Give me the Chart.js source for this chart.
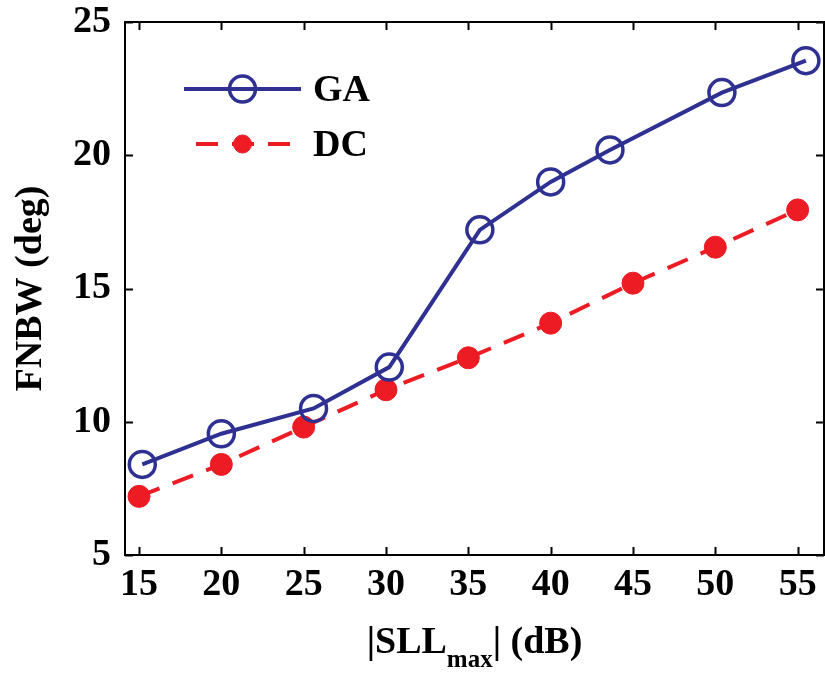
<!DOCTYPE html>
<html>
<head>
<meta charset="utf-8">
<script src="https://cdn.jsdelivr.net/npm/chart.js@4"></script>
<style>
  html, body { margin: 0; padding: 0; background: #ffffff; }
  #wrap { width: 825px; height: 676px; position: relative; }
</style>
</head>
<body>
<div id="wrap"><canvas id="fnbwChart" width="825" height="676"></canvas></div>
<script>
// Werte
const sllGA  = [15.2, 20.0, 25.6, 30.2, 35.7, 40.0, 43.6, 50.4, 55.5];
const fnbwGA = [8.4, 9.55, 10.5, 12.05, 17.2, 19.0, 20.2, 22.35, 23.55];
const sllDC  = [15, 20, 25, 30, 35, 40, 45, 50, 55];
const fnbwDC = [7.2, 8.4, 9.8, 11.2, 12.4, 13.7, 15.2, 16.55, 17.95];
const seriesLabels = ['GA', 'DC'];
const xTicks = [15, 20, 25, 30, 35, 40, 45, 50, 55];
const yTicks = [5, 10, 15, 20, 25];

(function() {
    'use strict';

    const FONT = '"Liberation Serif", "Times New Roman", serif';
    const BLUE = '#2e3192';
    const RED = '#ed1c24';

    function toPoints(xs, ys) {
        return xs.map(function(x, i) { return { x: x, y: ys[i] }; });
    }

    // Rahmen mit nach innen zeigenden Ticks (MATLAB-Stil)
    const framePlugin = {
        id: 'frame',
        beforeDatasetsDraw: function(chart) {
            const ctx = chart.ctx;
            const a = chart.chartArea;
            const xs = chart.scales.x;
            const ys = chart.scales.y;
            const len = 8;
            ctx.save();
            ctx.strokeStyle = '#000';
            ctx.lineWidth = 2;
            ctx.strokeRect(a.left, a.top, a.right - a.left, a.bottom - a.top);
            ctx.beginPath();
            xTicks.forEach(function(v) {
                const px = Math.round(xs.getPixelForValue(v)) + 0.5;
                ctx.moveTo(px, a.bottom); ctx.lineTo(px, a.bottom - len);
                ctx.moveTo(px, a.top); ctx.lineTo(px, a.top + len);
            });
            yTicks.forEach(function(v) {
                const py = Math.round(ys.getPixelForValue(v)) + 0.5;
                ctx.moveTo(a.left, py); ctx.lineTo(a.left + len, py);
                ctx.moveTo(a.right, py); ctx.lineTo(a.right - len, py);
            });
            ctx.stroke();
            ctx.restore();
        }
    };

    // x-Achsentitel mit tiefgestelltem "max"
    const xTitlePlugin = {
        id: 'xTitle',
        afterDraw: function(chart) {
            const ctx = chart.ctx;
            const a = chart.chartArea;
            const parts = [
                { t: '|SLL', size: 38, dy: 0 },
                { t: 'max', size: 25, dy: 14 },
                { t: '| (dB)', size: 38, dy: 0 }
            ];
            ctx.save();
            ctx.fillStyle = '#000';
            ctx.textBaseline = 'alphabetic';
            let total = 0;
            parts.forEach(function(p) {
                ctx.font = 'bold ' + p.size + 'px ' + FONT;
                p.w = ctx.measureText(p.t).width;
                total += p.w;
            });
            let x = (a.left + a.right) / 2 - total / 2;
            const base = 653;
            parts.forEach(function(p) {
                ctx.font = 'bold ' + p.size + 'px ' + FONT;
                ctx.fillText(p.t, x, base + p.dy);
                x += p.w;
            });
            ctx.restore();
        }
    };

    // Legende innerhalb der Achsen
    const legendPlugin = {
        id: 'innerLegend',
        afterDraw: function(chart) {
            const ctx = chart.ctx;
            const a = chart.chartArea;
            const x0 = a.left + 59;
            const x1 = a.left + 176;
            const xm = (x0 + x1) / 2;
            chart.data.datasets.forEach(function(ds, i) {
                const y = a.top + 67 + i * 55;
                ctx.save();
                ctx.strokeStyle = ds.borderColor;
                ctx.lineWidth = ds.borderWidth;
                ctx.setLineDash(ds.borderDash || []);
                ctx.lineDashOffset = -12;
                ctx.beginPath();
                ctx.moveTo(x0, y);
                ctx.lineTo(x1, y);
                ctx.stroke();
                ctx.setLineDash([]);
                ctx.beginPath();
                ctx.arc(xm, y, ds.pointRadius - (i === 1 ? 2 : 0), 0, Math.PI * 2);
                if (ds.pointBackgroundColor && ds.pointBackgroundColor !== 'transparent') {
                    ctx.fillStyle = ds.pointBackgroundColor;
                    ctx.fill();
                }
                ctx.lineWidth = ds.pointBorderWidth;
                ctx.strokeStyle = ds.pointBorderColor;
                ctx.stroke();
                ctx.fillStyle = '#000';
                ctx.font = 'bold 38px ' + FONT;
                ctx.textBaseline = 'middle';
                ctx.fillText(ds.label, x1 + 12, y + 2);
                ctx.restore();
            });
        }
    };

    const datasets = [
        {
            label: seriesLabels[0],
            data: toPoints(sllGA, fnbwGA),
            borderColor: BLUE,
            borderWidth: 4,
            pointStyle: 'circle',
            pointRadius: 13,
            pointBorderWidth: 3.5,
            pointBorderColor: BLUE,
            pointBackgroundColor: 'transparent',
            tension: 0,
            fill: false
        },
        {
            label: seriesLabels[1],
            data: toPoints(sllDC, fnbwDC),
            borderColor: RED,
            borderWidth: 4,
            borderDash: [22, 14],
            pointStyle: 'circle',
            pointRadius: 11,
            pointBorderWidth: 1,
            pointBorderColor: RED,
            pointBackgroundColor: RED,
            tension: 0,
            fill: false
        }
    ];

    const tickFont = { family: FONT, size: 38, weight: 'bold' };

    const config = {
        type: 'line',
        data: { datasets: datasets },
        options: {
            responsive: false,
            animation: false,
            layout: {
                autoPadding: false,
                padding: { top: 22, right: 1, left: 0, bottom: 0 }
            },
            plugins: {
                legend: { display: false },
                tooltip: { enabled: false }
            },
            scales: {
                x: {
                    type: 'linear',
                    min: 14.15,
                    max: 56.6,
                    grid: { display: false, drawTicks: false },
                    border: { display: false },
                    afterBuildTicks: function(scale) {
                        scale.ticks = xTicks.map(function(v) { return { value: v }; });
                    },
                    afterFit: function(scale) {
                        scale.height = 121;
                        scale.paddingLeft = 0;
                        scale.paddingRight = 0;
                    },
                    ticks: {
                        color: '#000',
                        font: tickFont,
                        padding: 7,
                        maxRotation: 0,
                        autoSkip: false
                    }
                },
                y: {
                    min: 5,
                    max: 25,
                    grid: { display: false, drawTicks: false },
                    border: { display: false },
                    afterBuildTicks: function(scale) {
                        scale.ticks = yTicks.map(function(v) { return { value: v }; });
                    },
                    afterFit: function(scale) {
                        scale.width = 125;
                        scale.paddingTop = 0;
                        scale.paddingBottom = 0;
                    },
                    ticks: {
                        color: '#000',
                        font: tickFont,
                        padding: 14
                    },
                    title: {
                        display: true,
                        text: 'FNBW (deg)',
                        color: '#000',
                        font: { family: FONT, size: 38, weight: 'bold' },
                        padding: { top: 8, bottom: 0 }
                    }
                }
            }
        },
        plugins: [framePlugin, xTitlePlugin, legendPlugin]
    };

    new Chart(document.getElementById('fnbwChart'), config);
})();
</script>
</body>
</html>
